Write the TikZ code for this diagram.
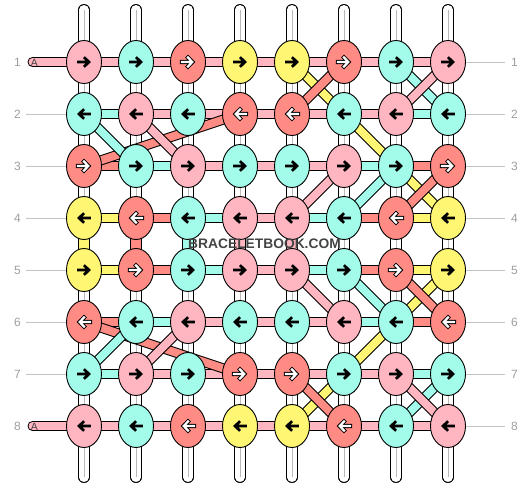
\documentclass[tikz,border=0pt]{standalone}
\usepackage{fontspec}
\setmainfont{Liberation Sans}
\usetikzlibrary{shapes.geometric}
\definecolor{kP}{HTML}{FFB6C1}
\definecolor{kC}{HTML}{A3FCEA}
\definecolor{kS}{HTML}{FF8C84}
\definecolor{kY}{HTML}{FFF773}
\definecolor{labgray}{HTML}{9E9E9E}
\definecolor{linegray}{HTML}{C4C4C4}
\definecolor{wmgray}{HTML}{444444}
\newcommand\band[3]{\draw[line width=10pt,black] (#2)--(#3); \draw[line width=8pt,#1] (#2)--(#3);}
\newcommand\vband[3]{\draw[line width=11.5pt,black] (#2)--(#3); \draw[line width=9.5pt,#1] (#2)--(#3);}
\tikzset{
  knot/.style={ellipse, draw=black, line width=0.9pt, minimum width=35pt, minimum height=43pt, inner sep=0pt},
  tubeout/.style={line width=11.5pt, black, line cap=round},
  tubein/.style={line width=9.5pt, white, line cap=round},
  tubeline/.style={line width=1pt, gray!55},
  gline/.style={line width=0.8pt, linegray},
  lab/.style={text=labgray, font=\fontsize{12}{12}\selectfont, inner sep=0pt},
  blackarrow/.style={black, line width=2.7pt, line join=miter},
  arrP/.pic={\draw[blackarrow] (-6.8,0)--(4,0) (0,-4.8)--(4.9,0)--(0,4.8);},
  arrC/.pic={\draw[blackarrow] (-6.8,0)--(4,0) (0,-4.8)--(4.9,0)--(0,4.8);},
  arrY/.pic={\draw[blackarrow] (-6.8,0)--(4,0) (0,-4.8)--(4.9,0)--(0,4.8);},
  arrS/.pic={\draw[black, line width=4.2pt, line join=miter, line cap=rect] (-6,0)--(3.5,0) (0,-4.5)--(4.4,0)--(0,4.5);
             \draw[white, line width=2.2pt, line join=miter, line cap=rect] (-6,0)--(3.5,0) (0,-4.5)--(4.4,0)--(0,4.5);},
}
\begin{document}
\begin{tikzpicture}[x=1pt,y=-1pt]
\useasboundingbox (0,0) rectangle (532,488);
% positions
\foreach \r in {1,...,8}{\foreach \c in {1,...,8}{\coordinate (p\r\c) at ({32+52*\c},{10+52*\r});}}
% white vertical strands
\foreach \c in {1,...,8}{
  \coordinate (t\c) at ({32+52*\c},9.75);
  \coordinate (b\c) at ({32+52*\c},477.25);
  \draw[tubeout] (t\c)--(b\c);
  \draw[tubein] (t\c)--(b\c);
  \draw[tubeline] (t\c)--(b\c);
}
% coloured vertical pieces between rows 4 and 5
\vband{kY}{p41}{p51}
\vband{kS}{p42}{p52}
\vband{kC}{p43}{p53}
\vband{kP}{p44}{p54}
\vband{kP}{p45}{p55}
% horizontal strands
\foreach \r/\cols in {1/{P,P,P,P,P,P,P},2/{C,P,P,P,P,P,C},3/{S,C,P,P,P,C,S},4/{Y,S,C,P,C,S,Y},5/{Y,S,C,P,C,S,Y},6/{S,C,P,P,P,C,S},7/{C,P,P,P,P,P,C},8/{P,P,P,P,P,P,P}}{
  \foreach \k [count=\c] in \cols {
    \pgfmathtruncatemacro\d{\c+1}
    \band{k\k}{p\r\c}{p\r\d}
  }
}
% A strands
\coordinate (a1) at (32.5,62);
\coordinate (a8) at (32.5,426);
\draw[line width=10pt,black,line cap=round] (a1)--(p11);
\draw[line width=8pt,kP,line cap=round] (a1)--(p11);
\draw[line width=10pt,black,line cap=round] (a8)--(p81);
\draw[line width=8pt,kP,line cap=round] (a8)--(p81);
\node[inner sep=0pt, text=black!75, font=\fontsize{10.5}{10.5}\selectfont] (A1) at (34.5,62.5) {A};
\node[inner sep=0pt, text=black!75, font=\fontsize{10.5}{10.5}\selectfont] (A8) at (34.5,426.5) {A};
% diagonal strands
\band{kY}{p15}{p26}
\band{kS}{p16}{p25}
\band{kC}{p17}{p28}
\band{kP}{p18}{p27}
\band{kS}{p24}{p31}
\band{kC}{p21}{p32}
\band{kP}{p22}{p33}
\band{kY}{p26}{p37}
\band{kP}{p36}{p45}
\band{kC}{p37}{p46}
\band{kY}{p37}{p48}
\band{kS}{p38}{p47}
\band{kP}{p55}{p66}
\band{kC}{p56}{p67}
\band{kY}{p58}{p67}
\band{kS}{p57}{p68}
\band{kS}{p61}{p74}
\band{kC}{p62}{p71}
\band{kP}{p63}{p72}
\band{kY}{p67}{p76}
\band{kY}{p76}{p85}
\band{kS}{p75}{p86}
\band{kC}{p78}{p87}
\band{kP}{p77}{p88}
% knots
\foreach \r/\ks in {1/{P,C,S,Y,Y,S,C,P},2/{C,P,C,S,S,C,P,C},3/{S,C,P,C,C,P,C,S},4/{Y,S,C,P,P,C,S,Y},5/{Y,S,C,P,P,C,S,Y},6/{S,C,P,C,C,P,C,S},7/{C,P,C,S,S,C,P,C},8/{P,C,S,Y,Y,S,C,P}}{
  \pgfmathsetmacro\dir{ifthenelse(mod(\r,2)==1,1,-1)}
  \foreach \k [count=\c] in \ks {
    \node[knot, fill=k\k] (k\r\c) at (p\r\c) {};
    \pic[xscale=\dir] at (p\r\c) {arr\k};
  }
}
% row labels and guide lines
\foreach \r in {1,...,8}{
  \node[lab] (ll\r) at (17.5,{10+52*\r}) {\r};
  \node[lab] (lr\r) at (514.5,{10+52*\r}) {\r};
  \coordinate (gr\r) at (505,{10+52*\r});
  \draw[gline] (k\r8.east) -- (gr\r);
}
\foreach \r in {2,...,7}{
  \coordinate (gl\r) at (26,{10+52*\r});
  \draw[gline] (gl\r) -- (k\r1.west);
}
% watermark
\node[inner sep=0.6pt, text=wmgray, font=\fontsize{13.8}{14}\selectfont\bfseries] (wm) at (264.5,243.5) {BRACELETBOOK.COM};
\end{tikzpicture}
\end{document}
